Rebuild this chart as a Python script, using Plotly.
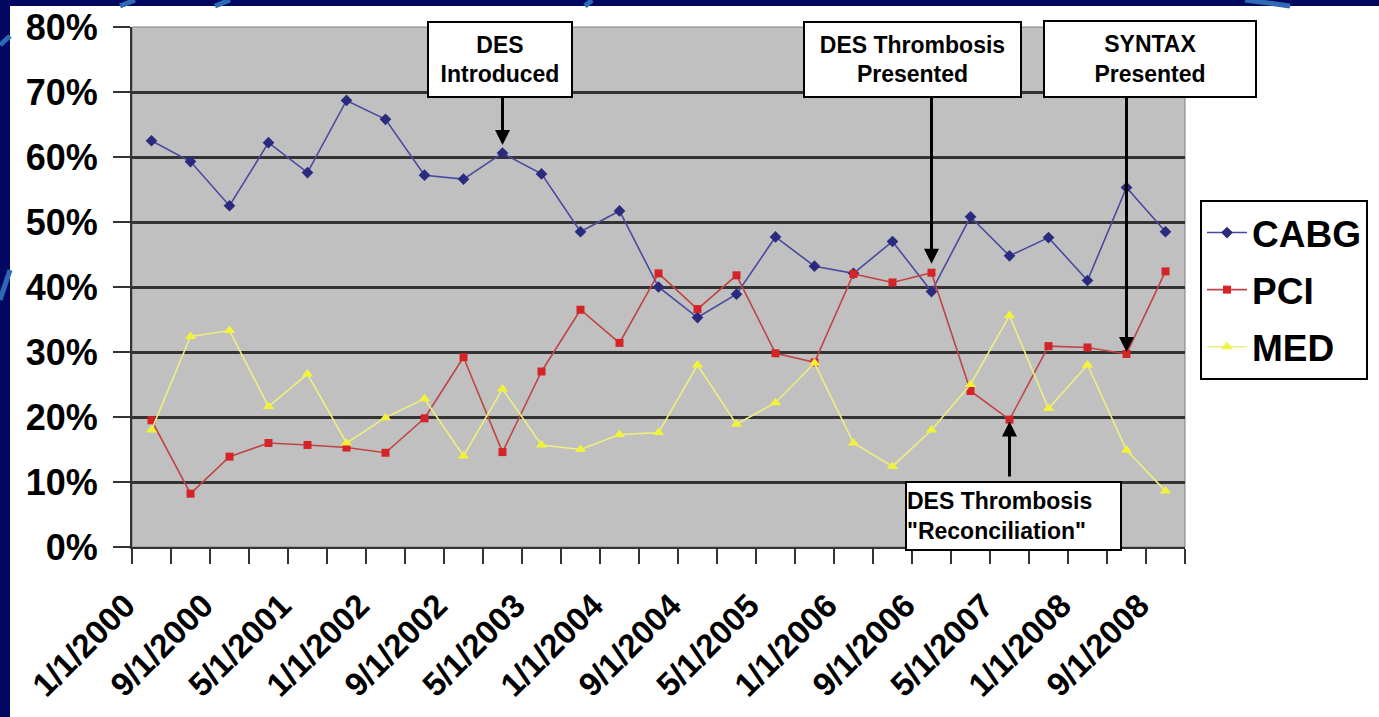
import plotly.graph_objects as go

# ---------------- data ----------------
dates = ["1/1/2000", "5/1/2000", "9/1/2000", "1/1/2001", "5/1/2001", "9/1/2001",
         "1/1/2002", "5/1/2002", "9/1/2002", "1/1/2003", "5/1/2003", "9/1/2003",
         "1/1/2004", "5/1/2004", "9/1/2004", "1/1/2005", "5/1/2005", "9/1/2005",
         "1/1/2006", "5/1/2006", "9/1/2006", "1/1/2007", "5/1/2007", "9/1/2007",
         "1/1/2008", "5/1/2008", "9/1/2008"]

tick_labels = ["1/1/2000", "9/1/2000", "5/1/2001", "1/1/2002", "9/1/2002", "5/1/2003",
               "1/1/2004", "9/1/2004", "5/1/2005", "1/1/2006", "9/1/2006", "5/1/2007",
               "1/1/2008", "9/1/2008"]

cabg = [62.5, 59.3, 52.5, 62.2, 57.6, 68.7, 65.8, 57.2, 56.6, 60.6, 57.4, 48.5, 51.7, 40.0,
        35.3, 38.9, 47.7, 43.2, 42.1, 47.0, 39.3, 50.8, 44.8, 47.6, 41.0, 55.3, 48.5]
pci = [19.5, 8.2, 13.9, 16.0, 15.7, 15.3, 14.5, 19.8, 29.2, 14.6, 27.0, 36.5, 31.4, 42.1,
       36.6, 41.8, 29.8, 28.4, 42.0, 40.7, 42.2, 24.0, 19.6, 30.9, 30.7, 29.7, 42.4]
med = [18.0, 32.4, 33.3, 21.6, 26.6, 16.0, 19.9, 22.8, 14.0, 24.3, 15.7, 15.0, 17.3, 17.6,
       28.0, 18.9, 22.2, 28.3, 16.0, 12.4, 18.0, 25.0, 35.6, 21.3, 28.0, 14.9, 8.6]

y_ticks = [0, 10, 20, 30, 40, 50, 60, 70, 80]
y_tick_labels = ["0%", "10%", "20%", "30%", "40%", "50%", "60%", "70%", "80%"]

events = [
    # text, series, index of event category
    ("DES<br>Introduced", "cabg", 9),
    ("DES Thrombosis<br>Presented", "pci", 20),
    ("SYNTAX<br>Presented", "pci", 25),
    ("DES Thrombosis<br>\"Reconciliation\"", "pci", 22),
]

# ---------------- figure ----------------
BOLD = dict(family="Liberation Sans, Arial, sans-serif", color="black", weight="bold")

fig = go.Figure()
fig.add_trace(go.Scatter(
    x=dates, y=cabg, name="CABG", mode="lines+markers", legendgroup="a",
    line=dict(color="#4a4a9e", width=1.6),
    marker=dict(symbol="diamond", size=9, color="#2a2a7e")))
fig.add_trace(go.Scatter(
    x=dates, y=pci, name="PCI", mode="lines+markers", legendgroup="b",
    line=dict(color="#c04444", width=1.6),
    marker=dict(symbol="square", size=8, color="#d42428")))
fig.add_trace(go.Scatter(
    x=dates, y=med, name="MED", mode="lines+markers", legendgroup="c",
    line=dict(color="#eeee80", width=1.6),
    marker=dict(symbol="triangle-up", size=10, color="#f2f23a")))

W, H = 1379, 717
L, R, T, B = 132, 1185, 27, 547
pw, ph = R - L, B - T

def px2x(px):
    return (px - L) / pw

def py2y(py):
    return (B - py) / ph

def py2val(py):
    return (B - py) / ph * y_ticks[-1]

series = {"cabg": cabg, "pci": pci, "med": med}

annotations = []
# boxes: (center_px, top_px, bottom_px, width_px, align)
boxes = [
    (500, 18, 95, 146, "center"),
    (912, 18, 95, 219, "center"),
    (1150, 17, 95, 214, "center"),
    (1013, 478, 548, 217, "left"),
]
standoffs = [8, 9, 2, 2]
for (text, sname, idx), (cx, top, bot, bw, al), so in zip(events, boxes, standoffs):
    annotations.append(dict(
        text=text, xref="paper", yref="paper", x=px2x(cx), y=py2y((top + bot) / 2 + 3),
        xanchor="center", yanchor="middle", showarrow=False,
        width=bw - 4, height=bot - top - 4, borderpad=0, align=al,
        bgcolor="white", bordercolor="black", borderwidth=2,
        font=dict(size=23, **BOLD)))
    vals = series[sname]
    tail_py = bot if top < 200 else top
    annotations.append(dict(
        x=dates[idx], y=vals[idx], xref="x", yref="y",
        ax=0, ay=py2val(tail_py), axref="pixel", ayref="y",
        showarrow=True, arrowhead=2, arrowsize=1, arrowwidth=3,
        arrowcolor="black", standoff=so, text=""))

shapes = [
    # plot area frame
    dict(type="rect", xref="paper", yref="paper", x0=0, x1=1, y0=0, y1=1,
         line=dict(color="#808080", width=1), layer="below"),
    # navy slide frame
    dict(type="rect", xref="paper", yref="paper", x0=px2x(0), x1=px2x(10),
         y0=py2y(H), y1=py2y(0), fillcolor="#020862", line=dict(width=0), layer="above"),
    dict(type="rect", xref="paper", yref="paper", x0=px2x(0), x1=px2x(W),
         y0=py2y(6), y1=py2y(0), fillcolor="#020862", line=dict(width=0), layer="above"),
]
# decorative light-blue swooshes on the frame
for (x0, y0, x1, y1) in [(0, 45, 10, 36), (120, 6, 135, 0), (215, 6, 230, 0),
                         (585, 6, 592, 0), (1245, 0, 1290, 6), (0, 300, 10, 270)]:
    shapes.append(dict(type="line", xref="paper", yref="paper",
                       x0=px2x(x0), y0=py2y(y0), x1=px2x(x1), y1=py2y(y1),
                       line=dict(color="#2d6ab5", width=5), layer="above"))

fig.update_layout(
    width=W, height=H, autosize=False,
    margin=dict(l=L, r=W - R, t=T, b=H - B, pad=0, autoexpand=False),
    paper_bgcolor="white", plot_bgcolor="#c0c0c0",
    showlegend=True,
    legend=dict(x=px2x(1200), y=py2y(200), xanchor="left", yanchor="top",
                bgcolor="white", bordercolor="black", borderwidth=2,
                font=dict(size=37, **BOLD), tracegroupgap=6, itemwidth=40),
    xaxis=dict(type="category", categoryorder="array", categoryarray=dates,
               range=[-0.5, len(dates) - 0.5],
               tickmode="array", tickvals=dates,
               ticktext=[d if d in tick_labels else "" for d in dates],
               tickson="boundaries", ticks="outside", ticklen=15, tickwidth=2,
               tickcolor="#333333", showline=True, linecolor="#333333", linewidth=2,
               showgrid=False, tickangle=-45, ticklabelstandoff=24, ticklabelshift=-26,
               tickfont=dict(size=33, **BOLD)),
    yaxis=dict(range=[y_ticks[0], y_ticks[-1]], tickmode="array", tickvals=y_ticks,
               ticktext=y_tick_labels, showgrid=True, gridcolor="#333333", gridwidth=2.5,
               ticks="outside", ticklen=17, tickwidth=2, tickcolor="#333333",
               showline=True, linecolor="#333333", linewidth=2, zeroline=False,
               ticklabelstandoff=8, tickfont=dict(size=36, **BOLD)),
    annotations=annotations,
    shapes=shapes,
)

fig.write_html("out.html")
